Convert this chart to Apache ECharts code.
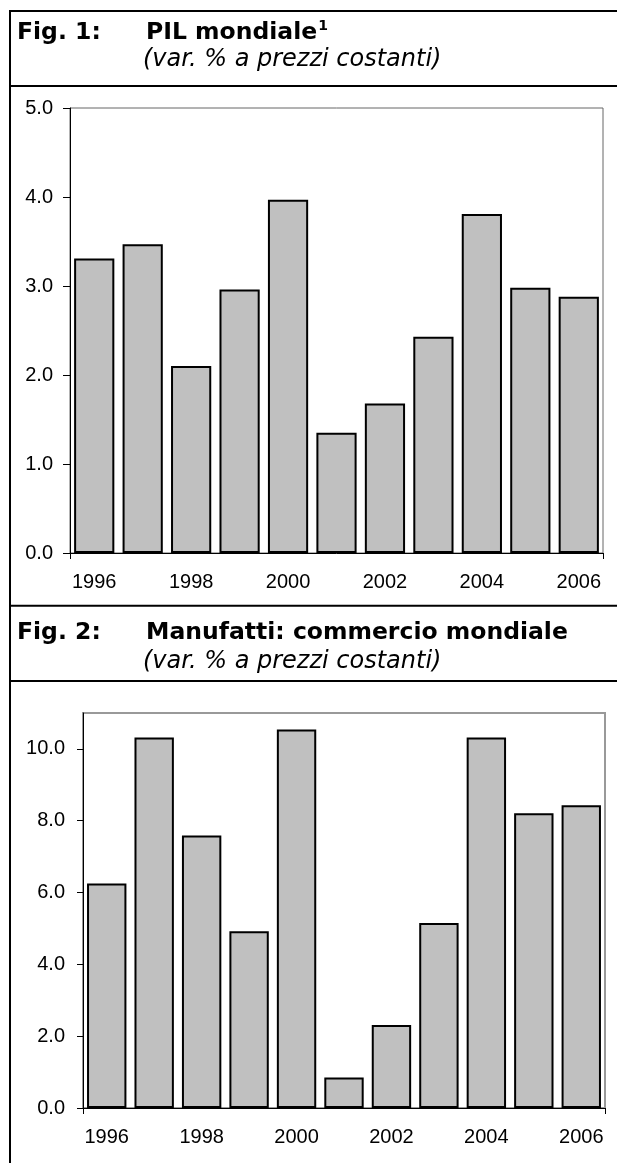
<!DOCTYPE html>
<html>
<head>
<meta charset="utf-8">
<script src="https://cdn.jsdelivr.net/npm/echarts@6/dist/echarts.min.js"></script>
<style>
html,body{margin:0;padding:0;background:#fff;}
#chart{width:617px;height:1163px;}
</style>
</head>
<body>
<div id="chart"></div>
<script>
const years = ['1996','1997','1998','1999','2000','2001','2002','2003','2004','2005','2006'];
const pilValues = [3.31, 3.47, 2.10, 2.96, 3.97, 1.35, 1.68, 2.43, 3.81, 2.98, 2.88];
const manufValues = [6.25, 10.32, 7.59, 4.92, 10.54, 0.85, 2.31, 5.15, 10.32, 8.21, 8.43];
const fig1Label = 'Fig. 1:';
const fig1Title = 'PIL mondiale';
const fig1Note = '1';
const fig2Label = 'Fig. 2:';
const fig2Title = 'Manufatti: commercio mondiale';
const subtitle = '(var. % a prezzi costanti)';

const chart = echarts.init(document.getElementById('chart'), null, {renderer: 'canvas'});

const axisFont = 'Liberation Sans, Arial, sans-serif';
const titleFont = 'DejaVu Sans, Verdana, sans-serif';

function xAxisCfg(gridIndex) {
  return {
    type: 'category', gridIndex, data: years,
    axisLine: {lineStyle: {color: '#000', width: 1}},
    axisTick: {show: true, interval: (i) => i === 0, length: 6, lineStyle: {color: '#000'}},
    axisLabel: {interval: 1, color: '#000', fontFamily: axisFont, fontSize: 20, margin: 19},
    splitLine: {show: false}
  };
}
function yAxisCfg(gridIndex, max, interval, margin, tick) {
  return {
    type: 'value', gridIndex, min: 0, max, interval,
    axisLine: {show: true, lineStyle: {color: '#000', width: 1}},
    axisTick: {show: true, length: tick, lineStyle: {color: '#000'}},
    axisLabel: {color: '#000', fontFamily: axisFont, fontSize: 20, margin, showMaxLabel: max % interval === 0,
      formatter: (v) => v.toFixed(1)},
    splitLine: {show: false}
  };
}
const barStyle = {color: '#C0C0C0', borderColor: '#000', borderWidth: 2};

function hline(y, x1, x2) {
  return {type: 'line', shape: {x1, y1: y, x2, y2: y}, style: {stroke: '#000', lineWidth: 2}, silent: true};
}
function vline(x, y1, y2) {
  return {type: 'line', shape: {x1: x, y1, x2: x, y2}, style: {stroke: '#000', lineWidth: 2}, silent: true};
}
function txt(x, y, text, font) {
  return {type: 'text', x, y, silent: true,
    style: {text, fill: '#000', font, verticalAlign: 'middle', align: 'left'}};
}
const boldFont = 'bold 23.5px ' + titleFont;
const italicFont = 'italic 24px ' + titleFont;

const option = {
  animation: false,
  backgroundColor: '#fff',
  grid: [
    {left: 70, right: 14, top: 108, height: 445, show: true, borderColor: '#666', borderWidth: 1, backgroundColor: 'transparent'},
    {left: 83, right: 12, top: 713, height: 395, show: true, borderColor: '#999', borderWidth: 2, backgroundColor: 'transparent'}
  ],
  xAxis: [xAxisCfg(0), xAxisCfg(1)],
  yAxis: [yAxisCfg(0, 5, 1, 17, 7), yAxisCfg(1, 11, 2, 18, 6)],
  series: [
    {type: 'bar', xAxisIndex: 0, yAxisIndex: 0, data: pilValues, barCategoryGap: '17%', itemStyle: barStyle},
    {type: 'bar', xAxisIndex: 1, yAxisIndex: 1, data: manufValues, barCategoryGap: '17%', itemStyle: barStyle}
  ],
  graphic: [
    vline(10, 10, 1163),
    hline(11, 9, 617),
    hline(86, 9, 617),
    hline(605.7, 9, 617),
    hline(681, 9, 617),
    txt(17, 33, fig1Label, boldFont),
    {type: 'text', x: 146, y: 33, silent: true,
      style: {text: '{t|' + fig1Title + '}{s|' + fig1Note + '}', fill: '#000', verticalAlign: 'middle', align: 'left',
        rich: {t: {font: boldFont, lineHeight: 28}, s: {font: 'bold 14px ' + titleFont, verticalAlign: 'top', lineHeight: 28, padding: [0, 0, 0, 1]}}}},
    txt(143, 60, subtitle, italicFont),
    txt(17, 632.5, fig2Label, boldFont),
    txt(146, 632.5, fig2Title, boldFont),
    txt(143, 661.5, subtitle, italicFont)
  ]
};
chart.setOption(option);
</script>
</body>
</html>
